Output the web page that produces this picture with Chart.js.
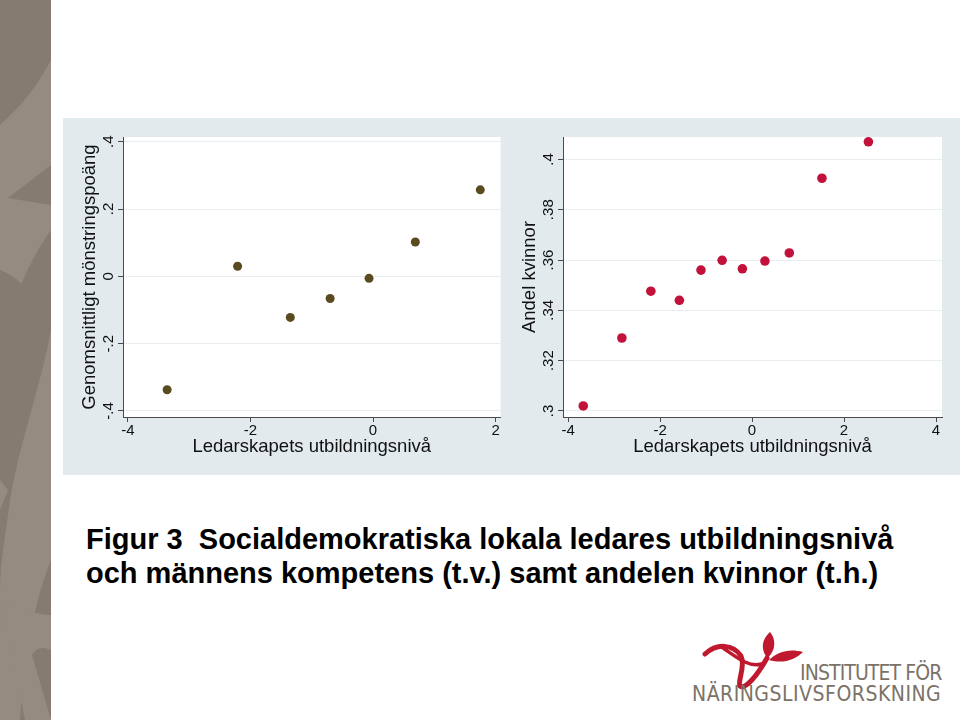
<!DOCTYPE html>
<html>
<head>
<meta charset="utf-8">
<script src="https://cdn.jsdelivr.net/npm/chart.js@4"></script>
<style>
  body { margin: 0; width: 960px; height: 720px; position: relative; overflow: hidden;
         background: #fff; font-family: "Liberation Sans", Arial, sans-serif; }
  #strip { position: absolute; left: 0; top: 0; width: 51px; height: 720px; }
  #panel { position: absolute; left: 63px; top: 118px; width: 897px; height: 357px; background: #e2eaed; }
  canvas { position: absolute; top: 0; }
  #left-chart { left: 0; }
  #right-chart { left: 442px; }
  #caption { position: absolute; left: 86px; top: 522px; margin: 0; font-size: 29px; font-weight: bold;
             line-height: 34px; color: #000; white-space: nowrap; }
  #logo { position: absolute; left: 695px; top: 626px; width: 265px; height: 94px; }
  #logo .txt { position: absolute; color: #7b7268; font-family: "Liberation Sans Narrow", "DejaVu Sans Condensed", sans-serif;
               font-size: 21px; line-height: 21px; white-space: nowrap; }
</style>
</head>
<body>
<svg id="strip" viewBox="0 0 51 720">
  <rect width="51" height="720" fill="#867b70"/>
  <path d="M51 60 C 30 100, 10 115, 0 125 L 0 360 C 10 300, 30 260, 51 230 Z" fill="#958b80"/>
  <path d="M51 165 L 8 198 L 51 205 Z" fill="#867b70"/>
  <path d="M0 270 C 25 280, 38 300, 36 330 C 34 370, 15 420, 0 470 Z" fill="#867b70"/>
  <path d="M51 330 C 40 390, 20 440, 10 500 C 5 540, 0 560, 0 600 L 0 720 L 20 720 C 25 650, 35 600, 51 560 Z" fill="#958b80"/>
  <path d="M0 600 C 20 610, 40 615, 51 615 L 51 650 C 40 645, 35 650, 32 655 L 51 720 L 25 720 Z" fill="#958b80"/>
  <path d="M0 480 L 8 490 L 0 510 Z" fill="#958b80"/>
</svg>

<div id="panel">
  <canvas id="left-chart" width="442" height="357"></canvas>
  <canvas id="right-chart" width="455" height="357"></canvas>
</div>

<p id="caption">Figur 3&nbsp; Socialdemokratiska lokala ledares utbildningsnivå<br>och männens kompetens (t.v.) samt andelen kvinnor (t.h.)</p>

<div id="logo">
  <svg width="120" height="70" viewBox="0 0 120 70" style="position:absolute;left:0;top:0">
    <g fill="none" stroke="#c0182e" stroke-linecap="round">
      <path d="M10 28 C 22 17, 38 18, 46 30 C 51 40, 42 56, 45 60 C 50 64, 62 50, 72 32" stroke-width="5"/>
      <path d="M28 22 C 40 30, 54 42, 66 38" stroke-width="3.5"/>
    </g>
    <path d="M72 32 C 66 24, 66 14, 75 6 C 82 14, 80 26, 72 32 Z" fill="#c0182e"/>
    <path d="M74 34 C 82 26, 94 22, 108 26 C 100 34, 88 38, 74 34 Z" fill="#c0182e"/>
  </svg>
  <div class="txt" style="left:105px;top:37px;letter-spacing:-0.9px;">INSTITUTET FÖR</div>
  <div class="txt" style="left:-3px;top:58px;letter-spacing:0.5px;">NÄRINGSLIVSFORSKNING</div>
</div>

<script>
// Left panel: education level vs. average conscription score
const xTicksLeft  = [-4, -2, 0, 2];
const xLabelsLeft = ["-4", "-2", "0", "2"];
const yTicksLeft  = [-0.4, -0.2, 0, 0.2, 0.4];
const yLabelsLeft = ["-.4", "-.2", "0", ".2", ".4"];
const eduLeft     = [-3.36, -2.21, -1.35, -0.70, -0.065, 0.69, 1.75];
const scoreLeft   = [-0.337, 0.030, -0.122, -0.066, -0.006, 0.102, 0.257];

// Right panel: education level vs. share of women
const xTicksRight  = [-4, -2, 0, 2, 4];
const xLabelsRight = ["-4", "-2", "0", "2", "4"];
const yTicksRight  = [0.30, 0.32, 0.34, 0.36, 0.38, 0.40];
const yLabelsRight = [".3", ".32", ".34", ".36", ".38", ".4"];
const eduRight     = [-3.67, -2.83, -2.20, -1.58, -1.11, -0.65, -0.21, 0.28, 0.81, 1.52, 2.53];
const womenRight   = [0.302, 0.329, 0.3476, 0.344, 0.356, 0.3599, 0.3565, 0.3596, 0.3628, 0.3925, 0.407];

const X_TITLE = "Ledarskapets utbildningsnivå";
const AXIS_COLOR = "#4a4a4a";
const GRID_COLOR = "#e9eef0";
const TICK_FONT = '15px "Liberation Sans", Arial, sans-serif';
const TITLE_FONT = '18.5px "Liberation Sans", Arial, sans-serif';

/**
 * Stata-like look: white plot region, rotated y tick labels, titles under/left of axes.
 */
const stataPlugin = {
  id: 'stata',
  beforeDraw(chart) {
    const a = chart.chartArea, ctx = chart.ctx;
    ctx.save();
    ctx.fillStyle = "#ffffff";
    ctx.fillRect(a.left, a.top, a.right - a.left, a.bottom - a.top);
    ctx.restore();
  },
  afterDraw(chart) {
    const o = chart.options.plugins.stata;
    const a = chart.chartArea, ctx = chart.ctx;
    const xs = chart.scales.x, ys = chart.scales.y;
    ctx.save();
    ctx.fillStyle = "#111";
    ctx.font = TICK_FONT;
    ctx.textAlign = "center";
    ctx.textBaseline = "middle";
    // x tick labels
    o.xTicks.forEach((v, i) => ctx.fillText(o.xLabels[i], xs.getPixelForValue(v), a.bottom + 14));
    // y tick labels, rotated
    o.yTicks.forEach((v, i) => {
      ctx.save();
      ctx.translate(a.left - 14, ys.getPixelForValue(v));
      ctx.rotate(-Math.PI / 2);
      ctx.fillText(o.yLabels[i], 0, 0);
      ctx.restore();
    });
    // axis titles
    ctx.font = TITLE_FONT;
    ctx.fillText(X_TITLE, (a.left + a.right) / 2, a.bottom + 30);
    ctx.save();
    ctx.translate(a.left - 33, (a.top + a.bottom) / 2);
    ctx.rotate(-Math.PI / 2);
    ctx.fillText(o.yTitle, 0, 0);
    ctx.restore();
    ctx.restore();
  }
};

function makeScatter(id, xVals, yVals, color, radius, cfg) {
  const points = xVals.map((x, i) => ({ x: x, y: yVals[i] }));
  return new Chart(document.getElementById(id), {
    type: 'scatter',
    data: { datasets: [{ data: points, backgroundColor: color, borderColor: color,
                         pointRadius: radius, pointHoverRadius: radius, borderWidth: 0 }] },
    options: {
      responsive: false,
      animation: false,
      devicePixelRatio: 1,
      layout: { padding: { left: 0, right: cfg.padRight, top: 19, bottom: 0 } },
      plugins: {
        legend: { display: false },
        tooltip: { enabled: false },
        stata: { xTicks: cfg.xTicks, xLabels: cfg.xLabels, yTicks: cfg.yTicks,
                 yLabels: cfg.yLabels, yTitle: cfg.yTitle }
      },
      scales: {
        x: {
          type: 'linear', min: cfg.xMin, max: cfg.xMax,
          afterBuildTicks: s => { s.ticks = cfg.xTicks.map(v => ({ value: v })); },
          afterFit: s => { s.height = 58; },
          ticks: { display: false },
          grid: { drawOnChartArea: false, drawTicks: true, tickLength: 5, tickColor: AXIS_COLOR },
          border: { display: true, color: AXIS_COLOR, width: 1 }
        },
        y: {
          type: 'linear', min: cfg.yMin, max: cfg.yMax,
          afterBuildTicks: s => { s.ticks = cfg.yTicks.map(v => ({ value: v })); },
          afterFit: s => { s.width = cfg.yWidth; },
          ticks: { display: false },
          grid: { color: GRID_COLOR, drawTicks: true, tickLength: 5, tickColor: AXIS_COLOR },
          border: { display: true, color: AXIS_COLOR, width: 1 }
        }
      }
    },
    plugins: [stataPlugin]
  });
}

makeScatter("left-chart", eduLeft, scoreLeft, "#5a4a20", 4.5, {
  xMin: -4.08, xMax: 2.08, yMin: -0.418, yMax: 0.414,
  xTicks: xTicksLeft, xLabels: xLabelsLeft, yTicks: yTicksLeft, yLabels: yLabelsLeft,
  yTitle: "Genomsnittligt mönstringspoäng", yWidth: 60, padRight: 3
});

makeScatter("right-chart", eduRight, womenRight, "#c2123c", 4.8, {
  xMin: -4.11, xMax: 4.13, yMin: 0.2976, yMax: 0.4089,
  xTicks: xTicksRight, xLabels: xLabelsRight, yTicks: yTicksRight, yLabels: yLabelsRight,
  yTitle: "Andel kvinnor", yWidth: 58, padRight: 18
});
</script>
</body>
</html>
